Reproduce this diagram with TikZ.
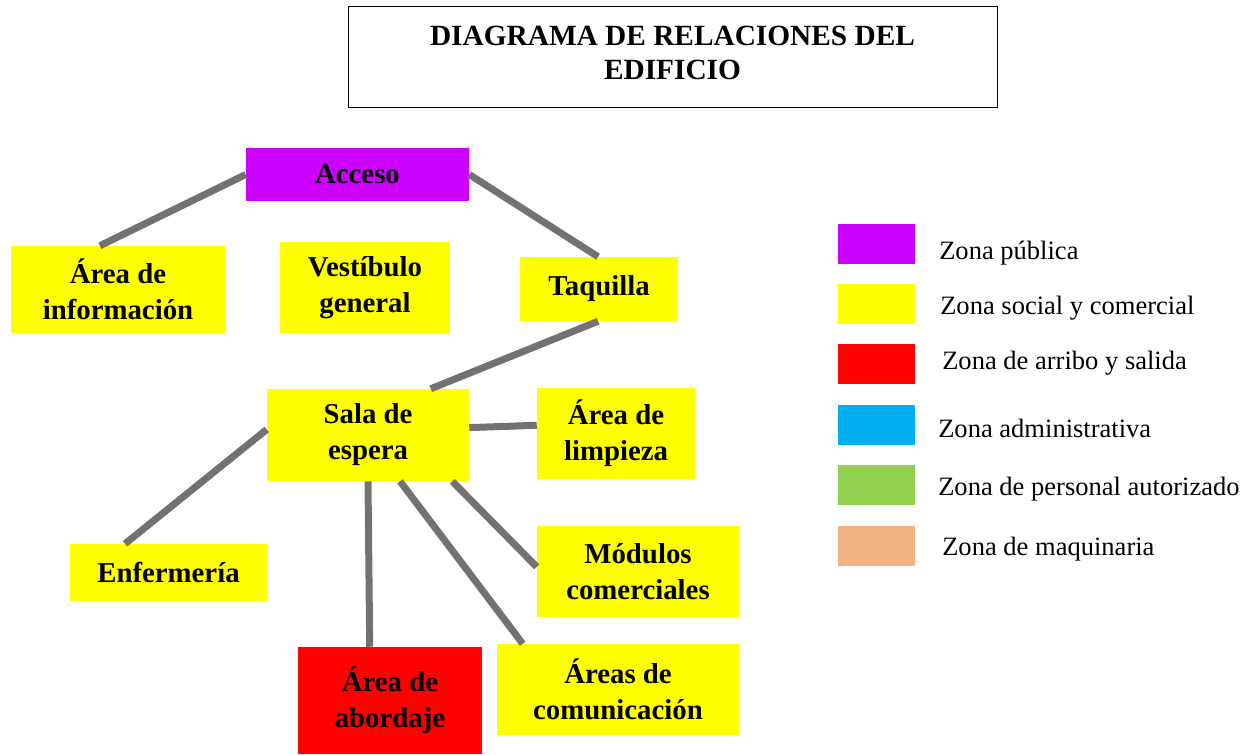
\documentclass[tikz,border=0pt]{standalone}
\usepackage{fontspec}
\setmainfont{Liberation Serif}
\usetikzlibrary{calc}
\definecolor{zpub}{HTML}{CC00FF}
\definecolor{zsoc}{HTML}{FFFF00}
\definecolor{zarr}{HTML}{FF0000}
\definecolor{zadm}{HTML}{00B0F0}
\definecolor{zper}{HTML}{92D050}
\definecolor{zmaq}{HTML}{F4B183}
\definecolor{linkgray}{HTML}{767171}
\begin{document}
\begin{tikzpicture}[x=0.75pt,y=-0.75pt,
  zone/.style={rectangle, inner sep=0pt, align=center, font=\fontsize{21.6}{27}\selectfont\bfseries},
  link/.style={draw=linkgray, line width=5.25pt},
  legbox/.style={rectangle, inner sep=0pt, minimum width=57.75pt, minimum height=30pt},
  legtext/.style={anchor=base west, inner sep=0pt, font=\fontsize{19.9}{23}\selectfont}]
\useasboundingbox (0,0) rectangle (1252,754);

% title
\node[draw=black, line width=0.75pt, rectangle, inner sep=0pt, align=center,
      minimum width=486.75pt, minimum height=75.75pt,
      font=\fontsize{22}{25.5}\selectfont\bfseries] (title) at (672.5,56.5)
      {DIAGRAMA DE RELACIONES DEL\\EDIFICIO\vphantom{g}};

% zones
\node[zone, fill=zpub, minimum width=167.25pt, minimum height=39.75pt] (acceso) at (357.5,174.5) {Acceso};
\node[zone, fill=zsoc, minimum width=160.5pt, minimum height=65.25pt] (info) at (118,289.5) {Área de\\información};
\node[zone, fill=zsoc, minimum width=127.5pt, minimum height=68.25pt] (vest) at (365,287.5) {Vestíbulo\\general};
\node[zone, fill=zsoc, minimum width=118.5pt, minimum height=48pt] (taquilla) at (599,289) {Taquilla};
\node[zone, fill=zsoc, minimum width=151.5pt, minimum height=69pt] (sala) at (368,435) {Sala de\\espera};
\node[zone, fill=zsoc, minimum width=118.5pt, minimum height=68.25pt] (limpieza) at (616,433.5) {Área de\\limpieza};
\node[zone, fill=zsoc, minimum width=147.75pt, minimum height=42.75pt] (enf) at (168.5,572.5) {Enfermería};
\node[zone, fill=zsoc, minimum width=151.5pt, minimum height=68.25pt] (mod) at (638,571.5) {Módulos\\comerciales};
\node[zone, fill=zarr, minimum width=138pt, minimum height=80.25pt] (abordaje) at (390,700.5) {Área de\\abordaje};
\node[zone, fill=zsoc, minimum width=181.5pt, minimum height=68.25pt] (comun) at (618,689.5) {Áreas de\\comunicación};

% connectors
\draw[link] (acceso.west) -- ($(info.north west)!0.416!(info.north east)$);
\draw[link] (acceso.east) -- ($(taquilla.north west)!0.494!(taquilla.north east)$);
\draw[link] ($(taquilla.south west)!0.494!(taquilla.south east)$) -- ($(sala.north west)!0.81!(sala.north east)$);
\draw[link] ($(sala.north east)!0.42!(sala.south east)$) -- ($(limpieza.north west)!0.41!(limpieza.south west)$);
\draw[link] ($(sala.north west)!0.44!(sala.south west)$) -- ($(enf.north west)!0.28!(enf.north east)$);
\draw[link] (sala.south) -- ($(abordaje.north west)!0.39!(abordaje.north east)$);
\draw[link] ($(sala.south west)!0.658!(sala.south east)$) -- ($(comun.north west)!0.107!(comun.north east)$);
\draw[link] ($(sala.south west)!0.916!(sala.south east)$) -- ($(mod.north west)!0.45!(mod.south west)$);

% legend
\node[legbox, fill=zpub] (lg1) at (876.5,244) {};
\node[legbox, fill=zsoc] (lg2) at (876.5,304) {};
\node[legbox, fill=zarr] (lg3) at (876.5,364) {};
\node[legbox, fill=zadm] (lg4) at (876.5,425) {};
\node[legbox, fill=zper] (lg5) at (876.5,485) {};
\node[legbox, fill=zmaq] (lg6) at (876.5,546) {};
\node[legtext] (lt1) at (939,259) {Zona pública};
\node[legtext] (lt2) at (940,314) {Zona social y comercial};
\node[legtext] (lt3) at (942,369) {Zona de arribo y salida};
\node[legtext] (lt4) at (938,437.5) {Zona administrativa};
\node[legtext] (lt5) at (938,495) {Zona de personal autorizado};
\node[legtext] (lt6) at (942,555.5) {Zona de maquinaria};
\end{tikzpicture}
\end{document}
